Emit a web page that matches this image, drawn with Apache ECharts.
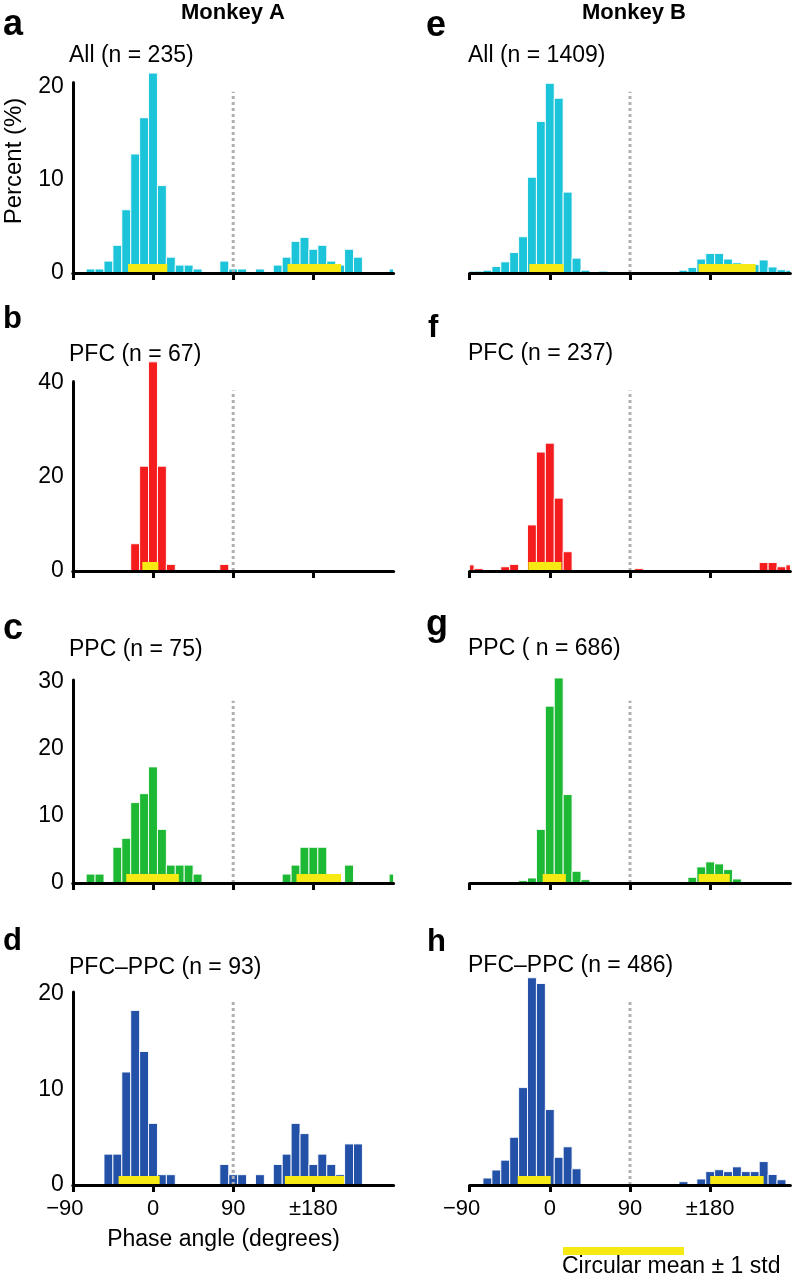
<!DOCTYPE html>
<html><head><meta charset="utf-8">
<script src="https://cdn.jsdelivr.net/npm/echarts@6/dist/echarts.min.js"></script>
<style>html,body{margin:0;padding:0;background:#fff}#c{width:793px;height:1280px}</style>
</head><body><div id="c"></div>
<script>
// ---------- data ----------
const binCenters = [-90,-80,-70,-60,-50,-40,-30,-20,-10,0,10,20,30,40,50,60,70,80,90,100,110,120,130,140,150,160,170,180,190,200,210,220,230,240,250,260,270];
const binWidth = 10;
const xTickValues = [-90, 0, 90, 180];
const xTickLabels = ['\u221290', '0', '90', '\u00b1180'];

// Monkey A (percent of pairs per 10-degree bin)
const monkeyA_All    = [0,0,0.43,0.43,1.28,2.98,6.8,12.8,16.7,21.5,9.4,1.7,0.85,0.85,0.43,0,0,1.28,0.43,0.43,0,0.43,0,0.85,1.7,3.4,3.83,2.55,2.98,1.28,0.85,2.55,1.7,0,0,0,0.43];
const monkeyA_PFC    = [0,0,0,0,0,0,0,5.8,22.3,44.5,22.3,1.4,0,0,0,0,0,1.4,0,0,0,0,0,0,0,0,0,0,0,0,0,0,0,0,0,0,0];
const monkeyA_PPC    = [0,0,1.33,1.33,0,5.33,6.67,12.0,13.33,17.33,8.0,2.67,2.67,2.67,1.33,0,0,0,0,0,0,0,0,0,1.33,2.67,5.33,5.33,5.33,1.33,0,2.67,0,0,0,0,1.33];
const monkeyA_PFCPPC = [0,0,0,0,3.23,3.23,11.83,18.28,13.98,6.45,1.08,1.08,0,0,0,0,0,2.15,1.08,1.08,0,1.08,0,2.15,3.23,6.45,5.38,2.15,3.23,2.15,1.08,4.3,4.3,0,0,0,0];
// Monkey B
const monkeyB_All    = [0.2,0.2,0.3,0.7,1.2,2.2,3.9,10.3,16.3,20.4,18.8,8.7,1.6,0.3,0.1,0.2,0,0,0,0,0,0,0.07,0.1,0.3,0.6,1.5,2.1,2.1,1.5,1.1,0.9,0.9,1.4,0.65,0.35,0.3];
const monkeyB_PFC    = [1.3,0.5,0.1,0.1,0.9,1.4,0.1,9.8,25.3,27.2,15.5,4.1,0.2,0,0,0,0,0,0,0.5,0.2,0.1,0.1,0.15,0.15,0,0,0,0,0,0,0.1,0.1,1.8,1.8,0.9,1.3];
const monkeyB_PPC    = [0,0,0,0,0,0,0.35,0.75,8.0,26.4,30.6,13.2,1.75,0.5,0.15,0.15,0,0,0,0,0,0,0,0,0.15,0.85,2.4,3.15,2.85,2.0,0.6,0,0,0.15,0,0,0];
const monkeyB_PFCPPC = [0,0,0.73,1.57,2.6,5.0,10.2,21.7,21.1,7.9,2.9,4.0,1.7,0,0,0,0,0,0,0,0,0,0,0,0.35,0,0.63,1.4,1.6,1.4,1.9,1.4,1.4,2.45,1.1,0.55,0];

// circular mean +/- 1 std (degrees)
const meanStdA_All    = [[-28,16],[151,211]];
const meanStdA_PFC    = [[-12,6]];
const meanStdA_PPC    = [[-30,29],[161,211]];
const meanStdA_PFCPPC = [[-38.6,7.5],[148,214.5]];
const meanStdB_All    = [[-23,15.6],[167,231]];
const meanStdB_PFC    = [[-24,13]];
const meanStdB_PPC    = [[-8,18],[167,202]];
const meanStdB_PFCPPC = [[-36,1],[180,240]];

const panelLetters = ['a','b','c','d','e','f','g','h'];
const panelTitles = ['All (n = 235)','PFC (n = 67)','PPC (n = 75)','PFC\u2013PPC (n = 93)',
                     'All (n = 1409)','PFC (n = 237)','PPC ( n = 686)','PFC\u2013PPC (n = 486)'];
const columnTitles = ['Monkey A','Monkey B'];
const yTickStep = [10, 20, 10, 10];
const yAxisMax  = [20.5, 40.3, 30.3, 20.2];
const dashTop   = [19.5, 38.4, 27.2, 19.2];

// ---------- layout / style ----------
const colors = ['#1cc4da', '#f41c1c', '#1db834', '#2351a8'];
const yellow = '#f7ea14';
const FONT = '"Liberation Sans", Arial, Helvetica, sans-serif';
const colLeft = [72.8, 469.6];
const colWidth = 320.8;
const rowTop = [82.4, 381.6, 680, 992.1];
const rowHeight = [190.6, 189.4, 203, 192.9];

const seriesVals = [monkeyA_All, monkeyA_PFC, monkeyA_PPC, monkeyA_PFCPPC,
                    monkeyB_All, monkeyB_PFC, monkeyB_PPC, monkeyB_PFCPPC];
const meanBars = [meanStdA_All, meanStdA_PFC, meanStdA_PPC, meanStdA_PFCPPC,
                  meanStdB_All, meanStdB_PFC, meanStdB_PPC, meanStdB_PFCPPC];

const grids = [], xAxes = [], yAxes = [], series = [];
for (let p = 0; p < 8; p++) {
  const col = p < 4 ? 0 : 1, row = p % 4;
  grids.push({ left: colLeft[col], top: rowTop[row], width: colWidth, height: rowHeight[row],
               containLabel: false, outerBoundsMode: 'none' });
  const bottomRow = row === 3;
  xAxes.push({
    type: 'value', gridIndex: p, min: -90, max: 270, interval: 90, z: 10,
    axisLine: { show: true, onZero: false, lineStyle: { color: '#000', width: 3 } },
    axisTick: { show: true, customValues: xTickValues, length: 7, inside: false, lineStyle: { color: '#000', width: 3 } },
    axisLabel: {
      show: bottomRow, customValues: xTickValues, margin: 13, color: '#000', fontSize: 22, fontFamily: FONT,
      formatter: v => { const i = xTickValues.indexOf(v); if (i < 0) return ''; return i === 0 ? '{n|' + xTickLabels[0] + '}' : xTickLabels[i]; },
      rich: { n: { fontSize: 22, fontFamily: FONT, color: '#000', padding: [0, 16, 0, 0] } }
    },
    splitLine: { show: false }
  });
  yAxes.push({
    type: 'value', gridIndex: p, min: 0, max: yAxisMax[row], interval: yTickStep[row], z: 10,
    show: col === 0,
    axisLine: { show: true, onZero: false, lineStyle: { color: '#000', width: 3 } },
    axisTick: { show: false },
    axisLabel: { margin: 9, color: '#000', fontSize: 23, fontFamily: FONT,
      formatter: v => (Math.abs(v / yTickStep[row] - Math.round(v / yTickStep[row])) < 1e-6 ? String(v) : '') },
    splitLine: { show: false }
  });
  const color = colors[row];
  // histogram bars
  series.push({
    type: 'custom', xAxisIndex: p, yAxisIndex: p, clip: false, z: 2,
    data: binCenters.map((c, i) => [c, seriesVals[p][i]]).filter(d => d[1] > 0),
    encode: { x: 0, y: 1 },
    renderItem: (params, api) => {
      const c = api.value(0), v = api.value(1);
      const x0 = Math.max(c - binWidth / 2, -90), x1 = Math.min(c + binWidth / 2, 270);
      const p0 = api.coord([x0, 0]), p1 = api.coord([x1, v]);
      return { type: 'rect', shape: { x: p0[0], y: p1[1], width: p1[0] - p0[0], height: p0[1] - p1[1] },
               style: { fill: color, stroke: '#ffffff', lineWidth: 0.9 } };
    }
  });
  // circular mean +/- std
  series.push({
    type: 'custom', xAxisIndex: p, yAxisIndex: p, clip: false, z: 3,
    data: meanBars[p], encode: { x: [0, 1] },
    renderItem: (params, api) => {
      const a = api.coord([api.value(0), 0]), b = api.coord([api.value(1), 0]);
      return { type: 'rect', shape: { x: a[0], y: a[1] - 9, width: b[0] - a[0], height: 9 }, style: { fill: yellow } };
    }
  });
  // dotted line at 90 degrees
  series.push({
    type: 'custom', xAxisIndex: p, yAxisIndex: p, clip: false, z: 4,
    data: [[90, dashTop[row]]], encode: { x: 0, y: 1 },
    renderItem: (params, api) => {
      const a = api.coord([api.value(0), 0]), b = api.coord([api.value(0), api.value(1)]);
      return { type: 'line', shape: { x1: a[0], y1: a[1], x2: b[0], y2: b[1] },
               style: { stroke: '#b0b0b0', lineWidth: 3, lineDash: [3, 3] } };
    }
  });
}

function txt(text, x, y, size, opts) {
  opts = opts || {};
  return { type: 'text', x: x, y: y, rotation: opts.rotation || 0, z: 20,
    style: { text: text, fill: '#000', fontSize: size, fontFamily: FONT, fontWeight: opts.bold ? 'bold' : 'normal',
             textAlign: opts.align || 'left', textVerticalAlign: 'middle', align: opts.align || 'left', verticalAlign: 'middle' } };
}

const letterX = [3, 3, 3, 3, 426, 428, 426, 427];
const letterY = [25.4, 319, 629.4, 941, 26.4, 328, 625.4, 942];
const letterSize = [36, 31, 36, 31, 36, 31, 36, 31];
const titleX = [69, 69, 69, 69, 468, 468, 468, 468];
const titleY = [56, 355, 650, 968, 56, 354, 649, 966];

const graphics = [];
graphics.push(txt(columnTitles[0], 233, 13, 22, { bold: true, align: 'center' }));
graphics.push(txt(columnTitles[1], 634, 13, 22, { bold: true, align: 'center' }));
for (let p = 0; p < 8; p++) {
  graphics.push(txt(panelLetters[p], letterX[p], letterY[p], letterSize[p], { bold: true }));
  graphics.push(txt(panelTitles[p], titleX[p], titleY[p], 23));
}
graphics.push(txt('Percent (%)', 14, 161, 24, { align: 'center', rotation: Math.PI / 2 }));
graphics.push(txt('Phase angle (degrees)', 223.5, 1240, 23, { align: 'center' }));
graphics.push({ type: 'rect', shape: { x: 563, y: 1247, width: 121, height: 8 }, style: { fill: yellow }, z: 20 });
graphics.push(txt('Circular mean \u00b1 1 std', 562, 1267, 23));

const option = {
  backgroundColor: '#ffffff',
  animation: false,
  grid: grids, xAxis: xAxes, yAxis: yAxes, series: series,
  graphic: { elements: graphics }
};
const chart = echarts.init(document.getElementById('c'), null, { renderer: 'canvas' });
chart.setOption(option);
</script>
</body></html>
